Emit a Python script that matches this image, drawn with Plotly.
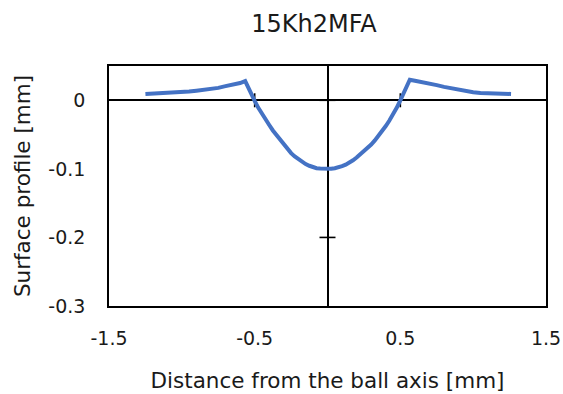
import plotly.graph_objects as go

# Data
distance_mm = [-1.25, -1.20, -1.15, -1.10, -1.05, -1.00, -0.95, -0.90, -0.85, -0.80,
               -0.75, -0.70, -0.65, -0.60, -0.565, -0.54, -0.52, -0.50, -0.475, -0.45,
               -0.425, -0.40, -0.375, -0.35, -0.325, -0.30, -0.275, -0.25, -0.225, -0.20,
               -0.175, -0.15, -0.125, -0.10, -0.075, -0.05, -0.025, 0.00, 0.025, 0.05,
               0.075, 0.10, 0.125, 0.15, 0.175, 0.20, 0.225, 0.25, 0.275, 0.30,
               0.325, 0.35, 0.375, 0.40, 0.425, 0.45, 0.475, 0.50, 0.52, 0.54,
               0.565, 0.60, 0.65, 0.70, 0.75, 0.80, 0.85, 0.90, 0.95, 1.00,
               1.05, 1.10, 1.15, 1.20, 1.26]
profile_mm = [0.0090, 0.0094, 0.0097, 0.0104, 0.0109, 0.0118, 0.0127, 0.0139, 0.0150, 0.0166,
              0.0181, 0.0206, 0.0227, 0.0251, 0.0280, 0.0155, 0.0065, -0.0010, -0.0110, -0.0200,
              -0.0280, -0.0360, -0.0440, -0.0510, -0.0580, -0.0650, -0.0710, -0.0770, -0.0820, -0.0860,
              -0.0900, -0.0930, -0.0955, -0.0975, -0.0990, -0.0995, -0.1000, -0.1000, -0.0998, -0.0990,
              -0.0978, -0.0960, -0.0938, -0.0910, -0.0875, -0.0835, -0.0790, -0.0745, -0.0695, -0.0645,
              -0.0585, -0.0520, -0.0450, -0.0375, -0.0295, -0.0210, -0.0110, 0.0000, 0.0090, 0.0180,
              0.0300, 0.0286, 0.0267, 0.0251, 0.0221, 0.0196, 0.0174, 0.0153, 0.0131, 0.0116,
              0.0106, 0.0101, 0.0097, 0.0095, 0.0093]

x_ticks = [-1.5, -0.5, 0.5, 1.5]
x_tick_text = ["-1.5", "-0.5", "0.5", "1.5"]
y_ticks = [-0.3, -0.2, -0.1, 0.0]
y_tick_text = ["-0.3", "-0.2", "-0.1", "0"]
x_range = [-1.5, 1.5]
y_range = [-0.3, 0.05]

title_text = "15Kh2MFA"
x_title = "Distance from the ball axis [mm]"
y_title = "Surface profile [mm]"

FONT = "DejaVu Sans"

fig = go.Figure()
fig.add_trace(go.Scatter(x=distance_mm, y=profile_mm, mode="lines",
                         line=dict(color="#4472C4", width=4), showlegend=False))

# cross tick marks on the axis lines through zero (skip those on the frame)
shapes = []
for xv in x_ticks:
    if x_range[0] < xv < x_range[1]:
        shapes.append(dict(type="line", xref="x", yref="y", ysizemode="pixel", yanchor=0,
                           x0=xv, x1=xv, y0=-7, y1=7, layer="below",
                           line=dict(color="black", width=1.6)))
for yv in y_ticks:
    if y_range[0] < yv < y_range[1]:
        shapes.append(dict(type="line", xref="x", yref="y", xsizemode="pixel", xanchor=0,
                           x0=-8, x1=8, y0=yv, y1=yv, layer="below",
                           line=dict(color="black", width=1.6)))

fig.update_layout(
    width=563, height=394,
    margin=dict(l=109, r=17, t=66, b=88, autoexpand=False),
    paper_bgcolor="white", plot_bgcolor="white",
    font=dict(family=FONT, color="#1a1a1a"),
    title=dict(text=title_text, x=314/563, xanchor="center", y=1-24/394, yanchor="middle",
               font=dict(size=24, family=FONT, color="#1a1a1a")),
    shapes=shapes,
    xaxis=dict(range=x_range, tickvals=x_ticks, ticktext=x_tick_text,
               showgrid=False, zeroline=True, zerolinecolor="black", zerolinewidth=1.6,
               showline=True, linecolor="black", linewidth=1.6, mirror=True,
               ticks="", ticklabelstandoff=14, tickfont=dict(size=19),
               title=dict(text=x_title, font=dict(size=21.5), standoff=25),
               fixedrange=True),
    yaxis=dict(range=y_range, tickvals=y_ticks, ticktext=y_tick_text,
               showgrid=False, zeroline=True, zerolinecolor="black", zerolinewidth=1.6,
               showline=True, linecolor="black", linewidth=1.6, mirror=True,
               ticks="", ticklabelstandoff=18, tickfont=dict(size=19),
               title=dict(text=y_title, font=dict(size=21.5), standoff=12),
               fixedrange=True),
)

fig.write_html("out.html")
